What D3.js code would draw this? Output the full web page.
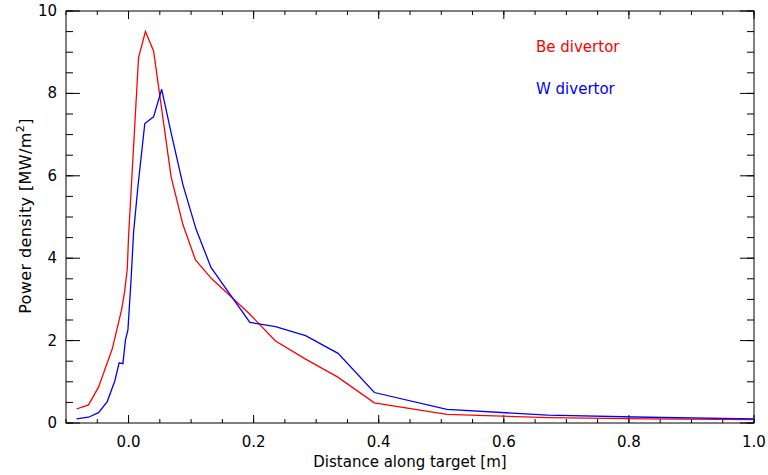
<!DOCTYPE html>
<html>
<head>
<meta charset="utf-8">
<script src="https://cdn.jsdelivr.net/npm/d3@7"></script>
<style>
  body { margin: 0; background: #fff; }
  text { font-family: "DejaVu Sans", sans-serif; fill: #000; }
</style>
</head>
<body>
<div id="chart"></div>
<script>
var svgWidth = 768;
var svgHeight = 475;

// Be divertor profile
var beX = [-0.083, -0.064, -0.048, -0.026, -0.011, -0.006, -0.002, 0.000, 0.016, 0.027, 0.040, 0.068, 0.087, 0.107, 0.133, 0.192, 0.235, 0.283, 0.334, 0.393, 0.509, 0.67, 0.83, 1.0];
var beY = [0.34, 0.44, 0.87, 1.80, 2.76, 3.22, 3.75, 4.52, 8.87, 9.50, 9.03, 5.98, 4.81, 3.96, 3.50, 2.67, 1.99, 1.55, 1.12, 0.49, 0.21, 0.13, 0.10, 0.08];

// W divertor profile
var wX = [-0.083, -0.064, -0.048, -0.034, -0.022, -0.015, -0.009, -0.005, -0.001, 0.004, 0.008, 0.015, 0.026, 0.040, 0.053, 0.068, 0.087, 0.108, 0.132, 0.194, 0.235, 0.283, 0.335, 0.393, 0.509, 0.67, 0.83, 1.0];
var wY = [0.10, 0.14, 0.25, 0.52, 1.02, 1.46, 1.44, 2.01, 2.26, 3.47, 4.62, 5.74, 7.27, 7.43, 8.10, 7.05, 5.78, 4.70, 3.77, 2.44, 2.34, 2.12, 1.69, 0.74, 0.33, 0.19, 0.14, 0.10];

var xTicks = [0.0, 0.2, 0.4, 0.6, 0.8, 1.0];
var yTicks = [0, 2, 4, 6, 8, 10];

var margin = {top: 11, right: 14, bottom: 52, left: 66};
var width = svgWidth - margin.left - margin.right,
    height = svgHeight - margin.top - margin.bottom;

var svg = d3.select("#chart")
  .append("svg")
  .attr("width", svgWidth)
  .attr("height", svgHeight);

var chartGroup = svg.append("g")
  .attr("transform", `translate(${margin.left}, ${margin.top})`);

var x = d3.scaleLinear().domain([-0.1, 1.0]).range([0, width]);
var y = d3.scaleLinear().domain([0, 10]).range([height, 0]);

var xMinor = d3.range(-0.1, 1.0001, 0.05).map(d => Math.round(d * 100) / 100);
var yMinor = d3.range(0, 10.001, 0.5);

// bottom / top axes (ticks inward)
function xAxisGroup(yPos, dir, labels) {
  var g = chartGroup.append("g").attr("transform", `translate(0, ${yPos})`);
  g.selectAll(".minor").data(xMinor).enter().append("line")
    .attr("x1", d => x(d)).attr("x2", d => x(d))
    .attr("y1", 0).attr("y2", dir * 4)
    .attr("stroke", "#000");
  g.selectAll(".major").data(xTicks).enter().append("line")
    .attr("x1", d => x(d)).attr("x2", d => x(d))
    .attr("y1", 0).attr("y2", dir * 8)
    .attr("stroke", "#000");
  if (labels) {
    g.selectAll("text").data(xTicks).enter().append("text")
      .attr("x", d => x(d))
      .attr("y", 24)
      .attr("text-anchor", "middle")
      .attr("font-size", "15px")
      .text(d => d.toFixed(1));
  }
}
xAxisGroup(height, -1, true);
xAxisGroup(0, 1, false);

function yAxisGroup(xPos, dir, labels) {
  var g = chartGroup.append("g").attr("transform", `translate(${xPos}, 0)`);
  g.selectAll(".minor").data(yMinor).enter().append("line")
    .attr("y1", d => y(d)).attr("y2", d => y(d))
    .attr("x1", 0).attr("x2", dir * 7)
    .attr("stroke", "#000");
  g.selectAll(".major").data(yTicks).enter().append("line")
    .attr("y1", d => y(d)).attr("y2", d => y(d))
    .attr("x1", 0).attr("x2", dir * 14)
    .attr("stroke", "#000");
  if (labels) {
    g.selectAll("text").data(yTicks).enter().append("text")
      .attr("x", -9)
      .attr("y", d => y(d) + 5)
      .attr("text-anchor", "end")
      .attr("font-size", "15px")
      .text(d => d);
  }
}
yAxisGroup(0, 1, true);
yAxisGroup(width, -1, false);

// frame
chartGroup.append("rect")
  .attr("x", 0).attr("y", 0)
  .attr("width", width).attr("height", height)
  .attr("fill", "none")
  .attr("stroke", "#000");

var line = d3.line()
  .x(d => x(d[0]))
  .y(d => y(d[1]));

chartGroup.append("path")
  .datum(d3.zip(beX, beY))
  .attr("d", line)
  .attr("fill", "none")
  .attr("stroke", "#ff0000")
  .attr("stroke-width", 1.3);

chartGroup.append("path")
  .datum(d3.zip(wX, wY))
  .attr("d", line)
  .attr("fill", "none")
  .attr("stroke", "#0000ff")
  .attr("stroke-width", 1.3);

// legend text
svg.append("text")
  .attr("x", 536).attr("y", 52)
  .attr("font-size", "15px")
  .style("fill", "#ff0000")
  .text("Be divertor");

svg.append("text")
  .attr("x", 536).attr("y", 94)
  .attr("font-size", "15px")
  .style("fill", "#0000ff")
  .text("W divertor");

// axis titles
svg.append("text")
  .attr("x", margin.left + width / 2)
  .attr("y", 467)
  .attr("text-anchor", "middle")
  .attr("font-size", "15px")
  .text("Distance along target [m]");

var yTitle = svg.append("text")
  .attr("transform", "translate(31, 216) rotate(-90)")
  .attr("text-anchor", "middle")
  .attr("font-size", "16px")
  .attr("letter-spacing", "0.4px");
yTitle.append("tspan").text("Power density [MW/m");
yTitle.append("tspan").attr("font-size", "11px").attr("dy", -7).text("2");
yTitle.append("tspan").attr("dy", 7).text("]");
</script>
</body>
</html>
